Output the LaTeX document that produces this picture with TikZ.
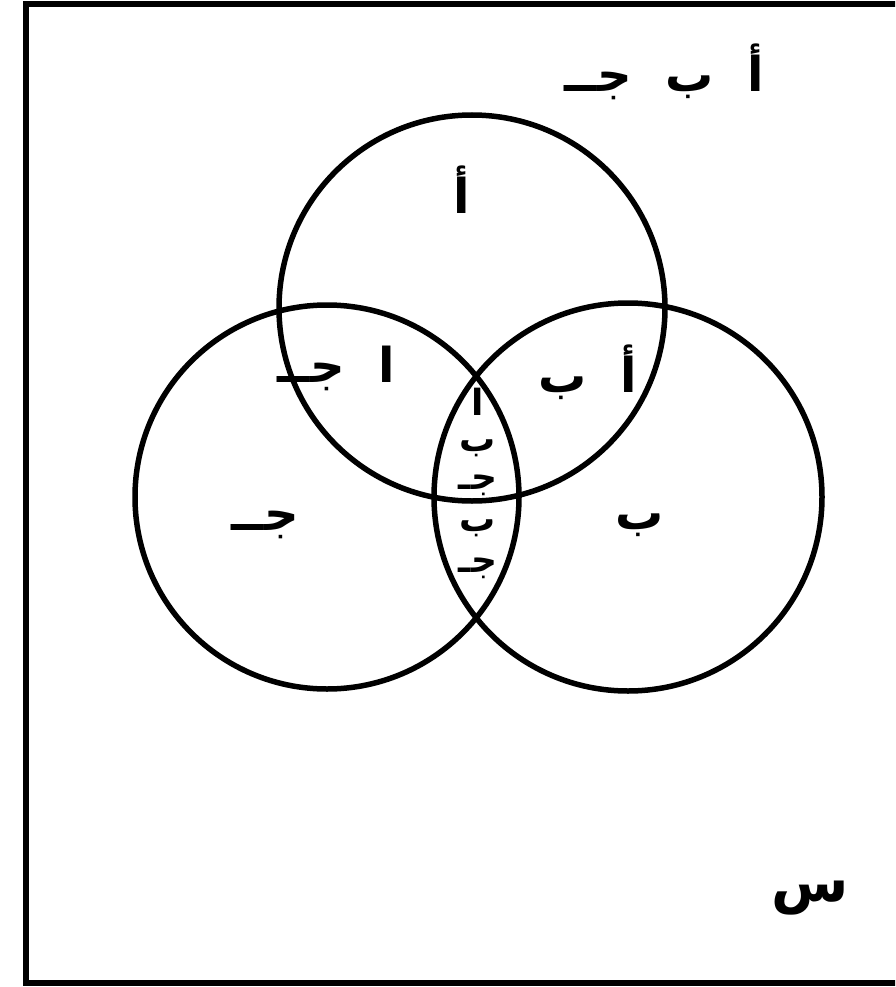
\documentclass[tikz,border=0pt]{standalone}
\usepackage{fontspec}
\newfontfamily\arabicfont[Script=Arabic]{DejaVu Sans}
\TeXXeTstate=1
\begin{document}
\begin{tikzpicture}[x=1pt,y=-1pt,
  setline/.style={line width=5.5pt,draw=black},
  lbl/.style={inner sep=0pt,font=\arabicfont\bfseries\fontsize{48}{52}\selectfont},
  small/.style={inner sep=0pt,font=\arabicfont\bfseries\fontsize{36}{40}\selectfont}]
\useasboundingbox (0,0) rectangle (895,987);
\clip (0,0) rectangle (895,987);
\fill[white] (0,0) rectangle (895,987);
\draw[line width=6pt] (25.5,4) rectangle (980,983);
% circles
\node[setline,circle,minimum size=386pt,inner sep=0pt] (A) at (472,308) {};
\node[setline,circle,minimum size=384pt,inner sep=0pt] (C) at (327,497) {};
\node[setline,circle,minimum size=388pt,inner sep=0pt] (B) at (628,497) {};
% labels
\node[lbl] (abc) at (664,72) {\beginR أ \ ب \ جــ\endR};
\node[lbl] (la) at (462,190) {\beginR أ\endR};
\node[lbl] (lac) at (336,368) {\beginR ا \ جــ\endR};
\node[lbl] (lab) at (588,372) {\beginR أ \ ب\endR};
\node[lbl] (lc) at (265,525) {\beginR جــ\endR};
\node[lbl] (lb) at (640,525) {\beginR ب\endR};
\node[lbl,font=\arabicfont\bfseries\fontsize{56}{60}\selectfont] (ls) at (810,898) {\beginR س\endR};
% lens
\node[small] (m1) at (478,402) {\beginR ا\endR};
\node[small] (m2) at (478,448) {\beginR ب\endR};
\node[small] (m3) at (478,485) {\beginR جـ\endR};
\node[small] (m4) at (478,528) {\beginR ب\endR};
\node[small] (m5) at (478,568) {\beginR جـ\endR};
\end{tikzpicture}
\end{document}
